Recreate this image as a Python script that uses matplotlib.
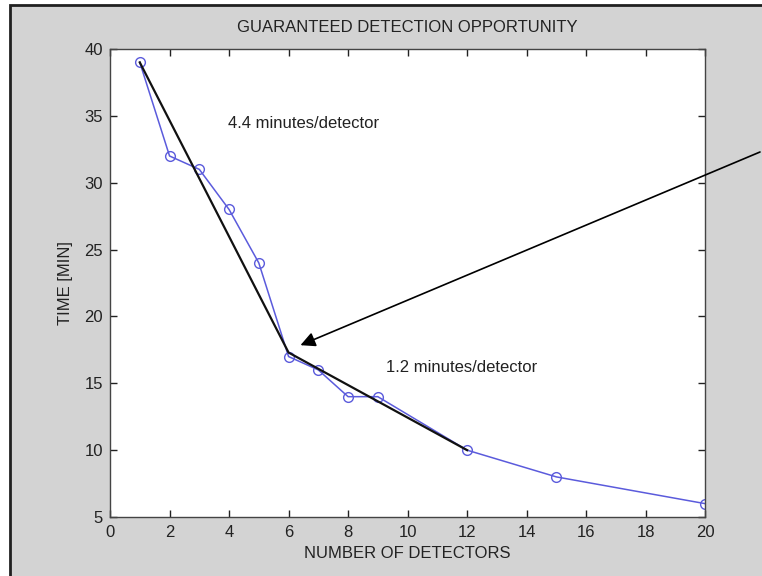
import matplotlib.pyplot as plt
from matplotlib.patches import Rectangle

# measured values
detectors = [1, 2, 3, 4, 5, 6, 7, 8, 9, 12, 15, 20]
time_min = [39, 32, 31, 28, 24, 17, 16, 14, 14, 10, 8, 6]

# two straight fits drawn in black
fit_x = [1, 6, 12]
fit_y = [39, 17.3, 10]

plt.rcParams['font.family'] = ['Liberation Sans', 'DejaVu Sans']
fs = 12

fig = plt.figure(figsize=(7.62, 5.76), dpi=100)
fig.patch.set_facecolor('white')
# gray matlab window with a dark edge at the left and top
fig.patches.append(Rectangle((10 / 762, -0.05), 1.1, 1.05 - 5 / 576,
                             transform=fig.transFigure, facecolor='#d3d3d3',
                             edgecolor='#202020', lw=2, zorder=0))

ax = fig.add_axes([0.1444, 0.1024, 0.781, 0.8125])
ax.set_zorder(2)
ax.set_facecolor('white')

ax.plot(detectors, time_min, color='#5b5bdc', lw=1.1, marker='o',
        markersize=7, markerfacecolor='none', markeredgecolor='#5b5bdc')
ax.plot(fit_x, fit_y, color='#111111', lw=1.6)

ax.set_xlim(0, 20)
ax.set_ylim(5, 40)
ax.set_xticks(range(0, 21, 2))
ax.set_yticks(range(5, 41, 5))
ax.tick_params(direction='in', top=True, right=True, length=5,
               labelsize=fs, colors='#222222', width=1)
ax.tick_params(axis='x', pad=6)
ax.tick_params(axis='y', pad=5)
for s in ax.spines.values():
    s.set_color('#444444')
    s.set_linewidth(1)

ax.set_title('GUARANTEED DETECTION OPPORTUNITY', fontsize=fs,
             color='#222222', pad=12)
ax.set_xlabel('NUMBER OF DETECTORS', fontsize=fs, color='#222222',
              labelpad=4)
ax.set_ylabel('TIME [MIN]', fontsize=fs, color='#222222', labelpad=8)

ax.text(3.97, 34.4, '4.4 minutes/detector', fontsize=fs, va='center',
        color='#222222')
ax.text(9.26, 16.2, '1.2 minutes/detector', fontsize=fs, va='center',
        color='#222222')

ax.annotate('', xy=(6.4, 17.85), xycoords='data',
            xytext=(760 / 762, 1 - 152 / 576), textcoords='figure fraction',
            arrowprops=dict(arrowstyle='-|>', color='black', lw=1.2,
                            mutation_scale=22, shrinkA=0, shrinkB=0),
            annotation_clip=False)

fig.savefig('out.png', dpi=100)
